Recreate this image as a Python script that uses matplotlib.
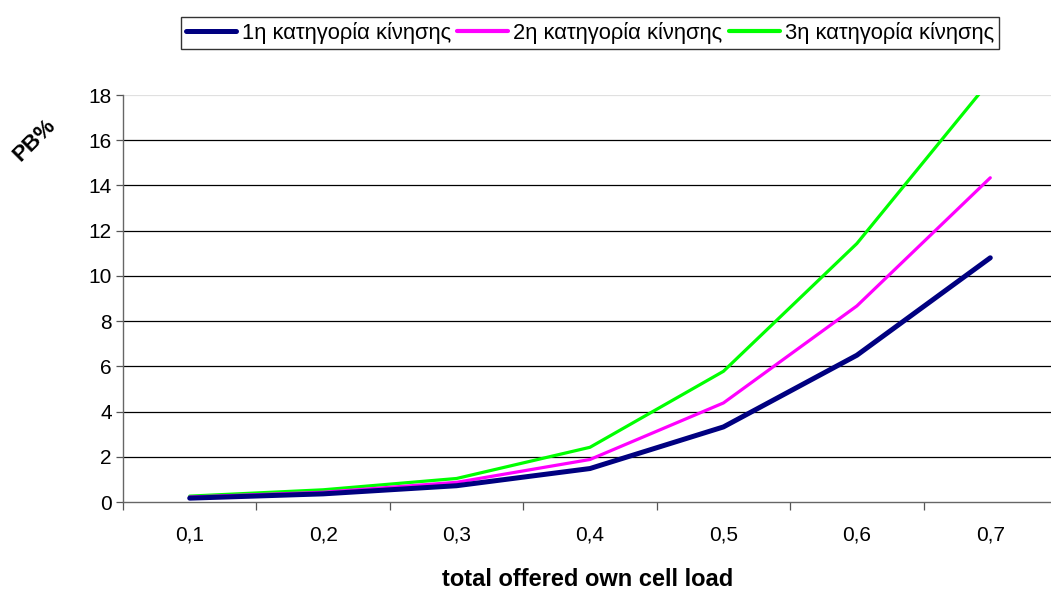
import matplotlib
matplotlib.use("Agg")
import matplotlib.pyplot as plt
import numpy as np

plt.rcParams['font.family'] = ['Liberation Sans', 'DejaVu Sans']

# Offered load categories and blocking probability per mobility class
loads = ["0,1", "0,2", "0,3", "0,4", "0,5", "0,6", "0,7"]
class1 = [0.17, 0.36, 0.72, 1.48, 3.32, 6.49, 10.8]
class2 = [0.22, 0.43, 0.87, 1.88, 4.38, 8.67, 14.34]
class3 = [0.26, 0.54, 1.04, 2.42, 5.78, 11.43, 18.65]
series_names = ["1η κατηγορία κίνησης", "2η κατηγορία κίνησης", "3η κατηγορία κίνησης"]
yticks = [0, 2, 4, 6, 8, 10, 12, 14, 16, 18]

fig = plt.figure(figsize=(10.51, 5.92), dpi=100)
ax = fig.add_axes([123 / 1051, 90 / 592, 934 / 1051, 407 / 592])

x = np.arange(len(loads))
ax.plot(x, class1, color="#000080", lw=3.6, solid_capstyle="round", label=series_names[0], zorder=5)
ax.plot(x, class2, color="#ff00ff", lw=2.3, solid_capstyle="round", label=series_names[1], zorder=4)
ax.plot(x, class3, color="#00ff00", lw=2.3, solid_capstyle="round", label=series_names[2], zorder=3)

ax.set_xlim(-0.5, len(loads) - 0.5)
ax.set_ylim(0, 18)

# horizontal gridlines
for v in yticks[1:-1]:
    ax.axhline(v, color="black", lw=0.9, zorder=1)
ax.axhline(18, color="#e0e0e0", lw=0.9, zorder=1)

ax.set_xticks(x)
ax.set_xticklabels(loads, fontsize=15)
ax.set_xticks(np.arange(-0.5, len(loads)), minor=True)
ax.tick_params(axis="x", which="major", length=0, pad=17)
ax.tick_params(axis="x", which="minor", length=6, width=0.9, color="#555555", direction="out")
ax.set_yticks(yticks)
ax.set_yticklabels([str(v) for v in yticks], fontsize=15)
ax.tick_params(axis="y", length=5, width=0.9, color="#555555", direction="out", pad=3)

for s in ("top", "right"):
    ax.spines[s].set_visible(False)
for s in ("left", "bottom"):
    ax.spines[s].set_color("#666666")
    ax.spines[s].set_linewidth(1.0)

fig.text(588 / 1051, 1 - 579 / 592, "total offered own cell load", ha="center", va="center",
         fontsize=17, fontweight="bold")
fig.text(35 / 1051, 1 - 140 / 592, "PB%", ha="center", va="center",
         fontsize=16, fontweight="bold", rotation=45)

leg = fig.legend(loc="center", bbox_to_anchor=(590 / 1051, 1 - 33 / 592), ncol=3,
                 frameon=True, fancybox=False, fontsize=15.8, handlelength=2.3,
                 handletextpad=0.25, columnspacing=0.3, borderpad=0.22,
                 borderaxespad=0)
leg.get_frame().set_edgecolor("black")
leg.get_frame().set_linewidth(1.0)
for line in leg.get_lines():
    line.set_linewidth(3.6 if line.get_color() == "#000080" else 3.0)

fig.savefig("out.png", dpi=100)
